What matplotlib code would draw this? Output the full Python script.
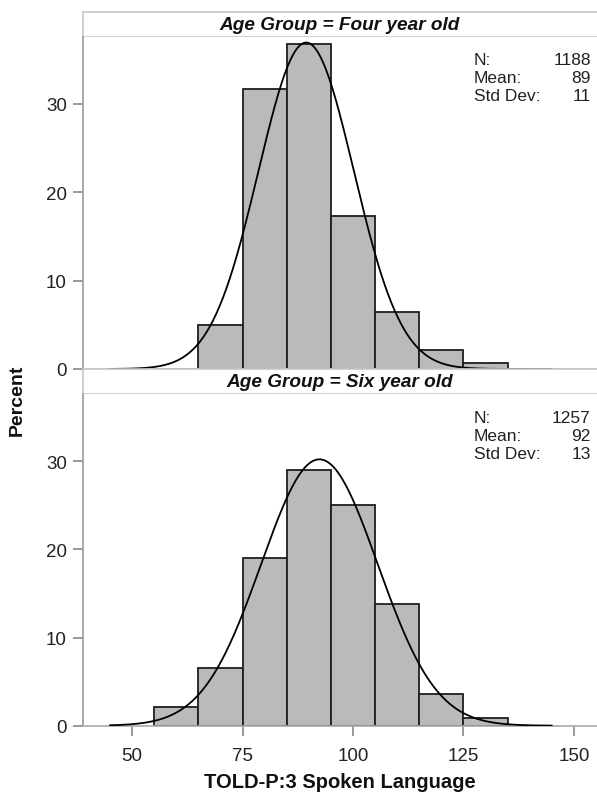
import numpy as np
import matplotlib
matplotlib.use("Agg")
import matplotlib.pyplot as plt

plt.rcParams["font.family"] = ["Liberation Sans", "DejaVu Sans"]

# histogram data (percent per 10-point bin)
bin_centers = [60, 70, 80, 90, 100, 110, 120, 130]
four_pct = [0.0, 5.0, 31.7, 36.8, 17.3, 6.4, 2.1, 0.7]
six_pct = [2.1, 6.5, 19.0, 29.0, 25.0, 13.8, 3.6, 0.9]
bin_width = 10

groups = ["Four year old", "Six year old"]
n_vals = [1188, 1257]
mean_shown = [89, 92]
sd_shown = [11, 13]
# fitted normal curve params (unrounded)
mean_fit = [89.4, 92.4]
sd_fit = [10.8, 13.2]
curve_range = [45, 145]

x_ticks = [50, 75, 100, 125, 150]
y_ticks = [0, 10, 20, 30]

W, H = 597, 804
fig = plt.figure(figsize=(W / 100, H / 100), dpi=100)

def fy(px):
    return 1 - px / H

left = 82.7 / W
width = 1 - left
panels = [(12.7, 37.7, 370.0), (370.0, 395.3, 726.7)]  # header top, axes top, axes bottom
data = [four_pct, six_pct]

for i, (htop, atop, abot) in enumerate(panels):
    # header strip
    hax = fig.add_axes([left, fy(atop), width + 0.01, (atop - htop) / H])
    hax.set_xticks([])
    hax.set_yticks([])
    for s in hax.spines.values():
        s.set_color("#c8c8c8")
        s.set_linewidth(1.2)
    fig.text(left + (1 - left) / 2, fy((htop + atop) / 2), "Age Group = " + groups[i],
             ha="center", va="center", fontsize=13.7, fontweight="bold", fontstyle="italic",
             color="#111111")

    ax = fig.add_axes([left, fy(abot), width + 0.01, (abot - atop) / H])
    ax.bar(bin_centers, data[i], width=bin_width, color="#bababa", edgecolor="#1e1e1e",
           linewidth=1.3, zorder=2)
    xs = np.linspace(curve_range[0], curve_range[1], 400)
    ys = 100 * bin_width / (sd_fit[i] * np.sqrt(2 * np.pi)) * np.exp(-0.5 * ((xs - mean_fit[i]) / sd_fit[i]) ** 2)
    ax.plot(xs, ys, color="black", linewidth=1.3, zorder=3)

    ax.set_xlim(38.8, 156.6)
    ax.set_ylim(0, 37.6)
    ax.set_yticks(y_ticks)
    ax.set_xticks(x_ticks)
    ax.tick_params(axis="both", colors="#888888", labelcolor="#222222", labelsize=13.5,
                   length=7.5, width=1.2)
    ax.tick_params(axis="y", pad=4)
    ax.tick_params(axis="x", pad=8)
    for s in ["top", "right"]:
        ax.spines[s].set_visible(False)
    ax.spines["left"].set_color("#999999")
    ax.spines["bottom"].set_color("#aaaaaa")
    ax.spines["left"].set_linewidth(1.2)
    ax.spines["bottom"].set_linewidth(1.2)
    if i == 0:
        ax.tick_params(axis="x", bottom=False, labelbottom=False)

    # stats box
    labels = ["N:", "Mean:", "Std Dev:"]
    values = [n_vals[i], mean_shown[i], sd_shown[i]]
    for k in range(3):
        yy = fy(atop + 22.8 + k * 18.0)
        fig.text(474 / W, yy, labels[k], ha="left", va="center", fontsize=12.5, color="#222222")
        fig.text(590.7 / W, yy, str(values[k]), ha="right", va="center", fontsize=12.5, color="#222222")

fig.text(17 / W, fy(400), "Percent", rotation=90, ha="center", va="center",
         fontsize=14, fontweight="bold", color="#111111")
fig.text(left + (1 - left) / 2, fy(783), "TOLD-P:3 Spoken Language", ha="center", va="center",
         fontsize=14.5, fontweight="bold", color="#111111")

fig.savefig("out.png", dpi=100)
